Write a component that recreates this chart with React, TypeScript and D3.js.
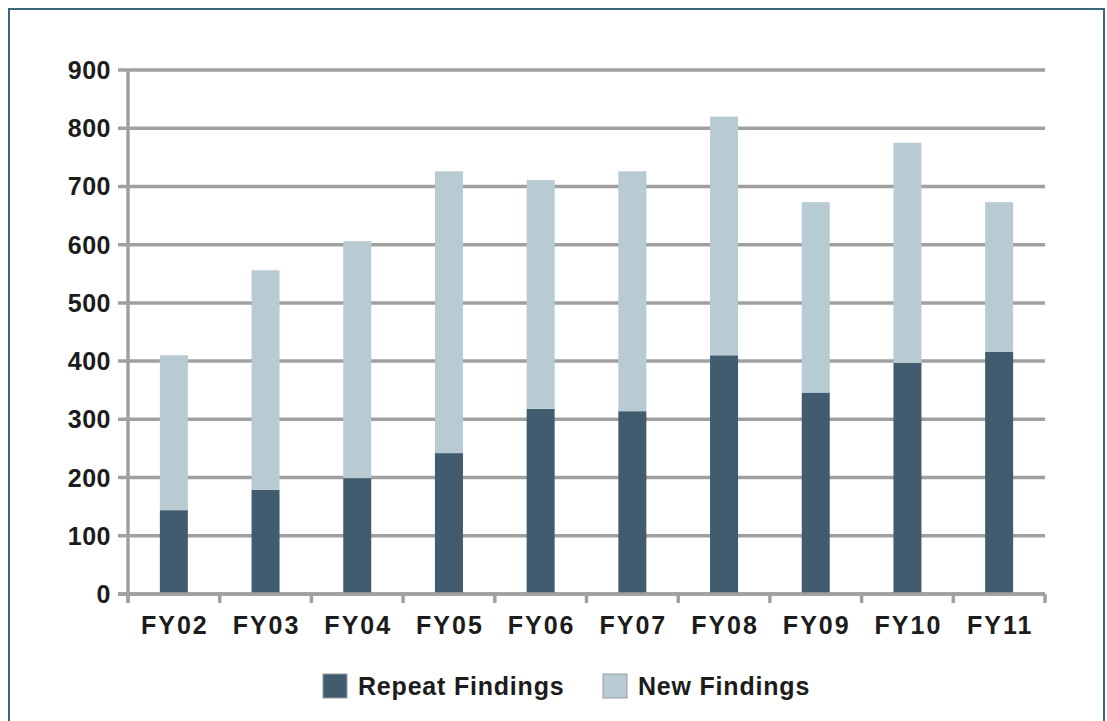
import React, { useEffect, useRef } from 'react';
import * as d3 from 'd3';

const years = ['FY02', 'FY03', 'FY04', 'FY05', 'FY06', 'FY07', 'FY08', 'FY09', 'FY10', 'FY11'];
const repeatFindings = [144, 179, 199, 242, 318, 314, 410, 346, 397, 416];
const newFindings = [266, 377, 407, 484, 393, 412, 410, 327, 378, 257];
const yTicks = [0, 100, 200, 300, 400, 500, 600, 700, 800, 900];

const REPEAT = '#415c6f';
const NEW = '#b8cbd3';
const GRID = '#a0a0a0';
const TEXT = '#1c1c1c';

const App = () => {
  const ref = useRef<SVGSVGElement>(null);

  useEffect(() => {
    const svg = d3.select(ref.current);
    svg.selectAll('*').remove();

    const width = 1107;
    const height = 721;
    const left = 128, right = 1045, top = 70, bottom = 594;
    const font = '"Liberation Sans", Arial, sans-serif';

    svg.attr('width', width).attr('height', height);

    // frame
    svg.append('rect')
      .attr('x', 9).attr('y', 9)
      .attr('width', 1095).attr('height', 740)
      .style('fill', '#fff')
      .style('stroke', '#3d6681')
      .style('stroke-width', 2);

    const x = d3.scaleBand().domain(years).range([left, right]);
    const y = d3.scaleLinear().domain([0, 900]).range([bottom, top]);

    // gridlines
    svg.append('g')
      .selectAll('line')
      .data(yTicks)
      .enter()
      .append('line')
      .attr('x1', left - 10)
      .attr('x2', right)
      .attr('y1', d => y(d))
      .attr('y2', d => y(d))
      .style('stroke', GRID)
      .style('stroke-width', 3.5);

    // y labels
    svg.append('g')
      .selectAll('text')
      .data(yTicks)
      .enter()
      .append('text')
      .attr('x', 111)
      .attr('y', d => y(d))
      .attr('dy', '0.36em')
      .attr('text-anchor', 'end')
      .style('font-family', font)
      .style('font-weight', 'bold')
      .style('font-size', '25px')
      .style('letter-spacing', '0.5px')
      .style('fill', TEXT)
      .text(d => d);

    const stack = d3.stack<any>().keys(['repeat', 'new'])(
      years.map((yr, i) => ({ year: yr, repeat: repeatFindings[i], new: newFindings[i] }))
    );
    const colors = [REPEAT, NEW];
    const barW = 28;

    stack.forEach((layer, li) => {
      svg.append('g')
        .selectAll('rect')
        .data(layer)
        .enter()
        .append('rect')
        .attr('x', d => x(d.data.year)! + x.bandwidth() / 2 - barW / 2)
        .attr('width', barW)
        .attr('y', d => y(d[1]))
        .attr('height', d => y(d[0]) - y(d[1]))
        .style('fill', colors[li]);
    });

    // axes lines
    svg.append('line')
      .attr('x1', left).attr('x2', left)
      .attr('y1', top).attr('y2', bottom + 9)
      .style('stroke', GRID).style('stroke-width', 3.5);
    svg.append('line')
      .attr('x1', left - 10).attr('x2', right)
      .attr('y1', bottom).attr('y2', bottom)
      .style('stroke', GRID).style('stroke-width', 3.5);

    // x ticks
    svg.append('g')
      .selectAll('line')
      .data([...years.map(d => x(d)!), right])
      .enter()
      .append('line')
      .attr('x1', d => d).attr('x2', d => d)
      .attr('y1', bottom).attr('y2', bottom + 9)
      .style('stroke', GRID).style('stroke-width', 3.5);

    svg.append('g')
      .selectAll('text')
      .data(years)
      .enter()
      .append('text')
      .attr('x', d => x(d)! + x.bandwidth() / 2 + 1)
      .attr('y', 634)
      .attr('text-anchor', 'middle')
      .style('font-family', font)
      .style('font-weight', 'bold')
      .style('font-size', '25px')
      .style('letter-spacing', '2px')
      .style('fill', TEXT)
      .text(d => d);

    // legend
    const legendData = [
      { label: 'Repeat Findings', color: REPEAT, x: 323 },
      { label: 'New Findings', color: NEW, x: 603 },
    ];
    const items = svg.append('g')
      .selectAll('g')
      .data(legendData)
      .enter()
      .append('g')
      .attr('transform', d => `translate(${d.x}, 674)`);
    items.append('rect')
      .attr('width', 24).attr('height', 24)
      .style('fill', d => d.color)
      .style('stroke', '#9a9a9a')
      .style('stroke-width', 1);
    items.append('text')
      .attr('x', 35).attr('y', 21)
      .style('font-family', font)
      .style('font-weight', 'bold')
      .style('font-size', '25px')
      .style('letter-spacing', '0.8px')
      .style('fill', TEXT)
      .text(d => d.label);
  }, []);

  return (
    <div style={{ position: 'absolute', left: 0, top: 0 }}>
      <svg ref={ref} style={{ display: 'block' }}></svg>
    </div>
  );
};

export default App;
